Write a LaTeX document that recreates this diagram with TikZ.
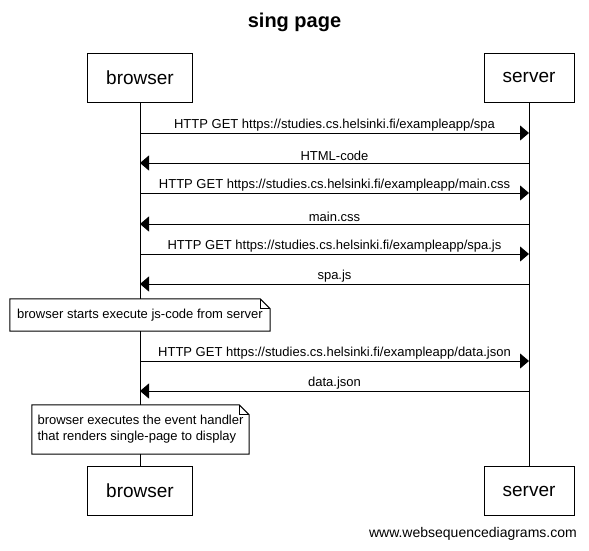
\documentclass[tikz,border=0pt]{standalone}
\usepackage{fontspec}
\setmainfont{Liberation Sans}
\usetikzlibrary{arrows.meta}
\usetikzlibrary{positioning}

\begin{document}
\begin{tikzpicture}[x=1pt, y=-1pt]
				\tikzstyle{actornode}=[draw=black, line width=1pt, minimum height=49pt, inner sep=0pt, fill=white, text=black, font=\fontsize{19}{22}\selectfont]
				\tikzstyle{notenode}=[draw=none, fill=white, inner sep=0pt, align=left, text=black, font=\fontsize{13}{16}\selectfont]
				\tikzstyle{noteline}=[draw=black, line width=1pt]
				\tikzstyle{msgline}=[line width=1pt, -{Triangle[length=9pt,width=15pt]}]
				\tikzstyle{msglabel}=[above, inner sep=1.5pt, text=black, font=\fontsize{13}{15}\selectfont]
				
				\useasboundingbox (0,0) rectangle (589,550);
				
				\node (title) at (294.5,22) {\fontsize{20}{24}\selectfont\bfseries sing page};
				
				\node (b0) at (140,77.5) [actornode, minimum width=105pt] {browser};
				\node (s0) at (529,77.5) [actornode, minimum width=90pt] {server};
				\node (b9) at (140,491) [actornode, minimum width=105pt] {browser};
				\node (s9) at (529,491) [actornode, minimum width=90pt] {server};
				
				% lifelines
				\draw [line width=1pt] (b0) -- (b9);
				\draw [line width=1pt] (s0) -- (s9);
				
				\coordinate (b1) at (140,133); \coordinate (s1) at (529,133);
				\coordinate (b2) at (140,163); \coordinate (s2) at (529,163);
				\coordinate (b3) at (140,193); \coordinate (s3) at (529,193);
				\coordinate (b4) at (140,224); \coordinate (s4) at (529,224);
				\coordinate (b5) at (140,254); \coordinate (s5) at (529,254);
				\coordinate (b6) at (140,284); \coordinate (s6) at (529,284);
				\coordinate (b7) at (140,361); \coordinate (s7) at (529,361);
				\coordinate (b8) at (140,391); \coordinate (s8) at (529,391);
				
				\draw [msgline] (b1) -- node [msglabel] {HTTP GET https://studies.cs.helsinki.fi/exampleapp/spa} (s1);
				\draw [msgline] (s2) -- node [msglabel] {HTML-code} (b2);
				\draw [msgline] (b3) -- node [msglabel] {HTTP GET https://studies.cs.helsinki.fi/exampleapp/main.css} (s3);
				\draw [msgline] (s4) -- node [msglabel] {main.css} (b4);
				\draw [msgline] (b5) -- node [msglabel] {HTTP GET https://studies.cs.helsinki.fi/exampleapp/spa.js} (s5);
				\draw [msgline] (s6) -- node [msglabel] {spa.js} (b6);
				\draw [msgline] (b7) -- node [msglabel] {HTTP GET https://studies.cs.helsinki.fi/exampleapp/data.json} (s7);
				\draw [msgline] (s8) -- node [msglabel] {data.json} (b8);
				
				% notes
				\node (n1) at (140,315) [notenode, minimum width=260pt, minimum height=32pt] {browser starts execute js-code from server};
				\node (n2) at (140.5,429.5) [notenode, minimum width=217pt, minimum height=49pt] {browser executes the event handler\\that renders single-page to display};
				
				\draw [noteline] (n1.south west) -- (n1.north west) -- ([xshift=-10pt]n1.north east) -- ([yshift=-10pt]n1.north east) -- (n1.south east) -- cycle;
				\draw [noteline] ([xshift=-10pt]n1.north east) -- ([xshift=-10pt,yshift=-10pt]n1.north east) -- ([yshift=-10pt]n1.north east);
				\draw [noteline] (n2.south west) -- (n2.north west) -- ([xshift=-10pt]n2.north east) -- ([yshift=-10pt]n2.north east) -- (n2.south east) -- cycle;
				\draw [noteline] ([xshift=-10pt]n2.north east) -- ([xshift=-10pt,yshift=-10pt]n2.north east) -- ([yshift=-10pt]n2.north east);
				
				\node (wsd) at (577,534) [anchor=east, inner sep=0pt, font=\fontsize{14}{16}\selectfont] {www.websequencediagrams.com};
				
\end{tikzpicture}
\end{document}
